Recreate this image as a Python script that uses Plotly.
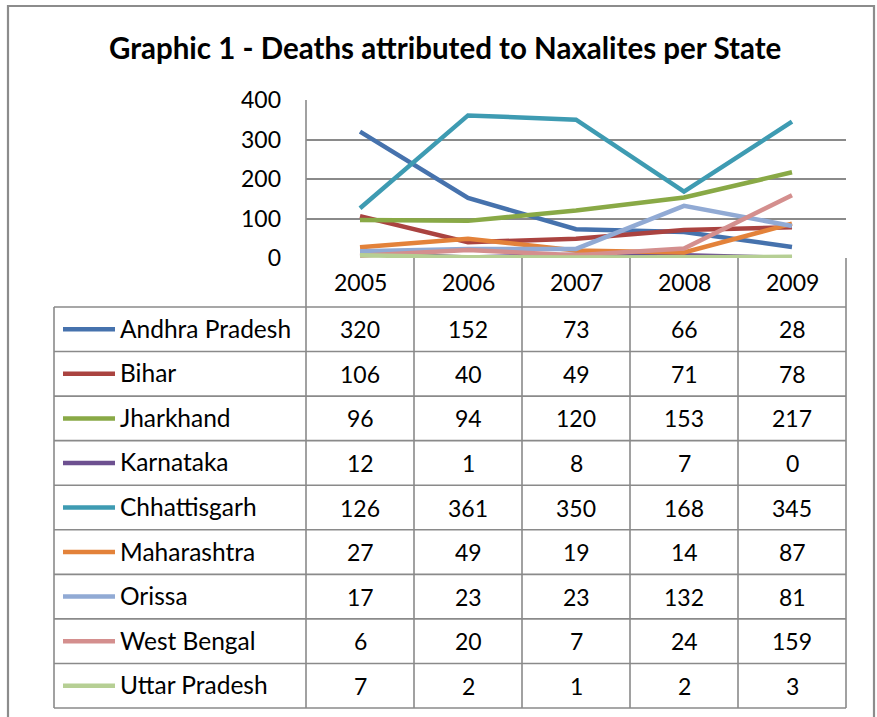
import plotly.graph_objects as go

W, H = 877, 717

years = ["2005", "2006", "2007", "2008", "2009"]
states = ["Andhra Pradesh", "Bihar", "Jharkhand", "Karnataka", "Chhattisgarh",
          "Maharashtra", "Orissa", "West Bengal", "Uttar Pradesh"]
andhra_pradesh = [320, 152, 73, 66, 28]
bihar = [106, 40, 49, 71, 78]
jharkhand = [96, 94, 120, 153, 217]
karnataka = [12, 1, 8, 7, 0]
chhattisgarh = [126, 361, 350, 168, 345]
maharashtra = [27, 49, 19, 14, 87]
orissa = [17, 23, 23, 132, 81]
west_bengal = [6, 20, 7, 24, 159]
uttar_pradesh = [7, 2, 1, 2, 3]
y_ticks = [0, 100, 200, 300, 400]

series = [andhra_pradesh, bihar, jharkhand, karnataka, chhattisgarh,
          maharashtra, orissa, west_bengal, uttar_pradesh]
colors = ["#4672AD", "#AA4340", "#89A946", "#6D5090", "#3E9BB2",
          "#E3823A", "#91AAD4", "#D48F8E", "#B6CF94"]

FONT = "Lato"
GRID = "#8A8A8A"
TXT = 23


def px(x):
    return x / W


def py(y):
    return 1 - y / H


plot_l, plot_r, plot_t, plot_b = 306, 846, 100, 258
table_l, table_b = 54, 708
row_tops = [307 + i * (table_b - 307) / 9 for i in range(10)]
col_edges = [plot_l + i * (plot_r - plot_l) / 5 for i in range(6)]

fig = go.Figure()
for name, vals, c in zip(states, series, colors):
    fig.add_trace(go.Scatter(x=years, y=vals, mode="lines", name=name,
                             line=dict(color=c, width=4.5), showlegend=False))

shapes = []


def line(x0, y0, x1, y1, color=GRID, width=1.6):
    shapes.append(dict(type="line", xref="paper", yref="paper",
                       x0=px(x0), y0=py(y0), x1=px(x1), y1=py(y1),
                       line=dict(color=color, width=width), layer="below"))


# outer frame
shapes.append(dict(type="rect", xref="paper", yref="paper",
                   x0=px(8), y0=py(735), x1=px(874), y1=py(6),
                   line=dict(color="#8C8C8C", width=2.2)))
# table horizontal lines
for yt in row_tops:
    line(table_l, yt, plot_r, yt)
# vertical lines
line(table_l, row_tops[0], table_l, table_b)
line(plot_l, plot_t, plot_l, table_b)
for xe in col_edges[1:]:
    line(xe, plot_b, xe, table_b)

annotations = []
# title
annotations.append(dict(xref="paper", yref="paper", x=px(445), y=py(47),
                        text="<b>Graphic 1 - Deaths attributed to Naxalites per State</b>",
                        showarrow=False, font=dict(family=FONT, size=29.5, color="black"),
                        xanchor="center", yanchor="middle"))
# year header
for j, yr in enumerate(years):
    annotations.append(dict(xref="x", yref="paper", x=j, y=py((plot_b + row_tops[0]) / 2),
                            text=yr, showarrow=False,
                            font=dict(family=FONT, size=TXT, color="black"),
                            xanchor="center", yanchor="middle"))
# rows
for i, (name, vals, c) in enumerate(zip(states, series, colors)):
    yc = (row_tops[i] + row_tops[i + 1]) / 2
    shapes.append(dict(type="line", xref="paper", yref="paper",
                       x0=px(63), x1=px(115), y0=py(yc), y1=py(yc),
                       line=dict(color=c, width=4.5)))
    annotations.append(dict(xref="paper", yref="paper", x=px(118), y=py(yc - 1),
                            text=name, showarrow=False,
                            font=dict(family=FONT, size=24.5, color="black"),
                            xanchor="left", yanchor="middle"))
    for j, v in enumerate(vals):
        annotations.append(dict(xref="x", yref="paper", x=j, y=py(yc),
                                text=str(v), showarrow=False,
                                font=dict(family=FONT, size=TXT, color="black"),
                                xanchor="center", yanchor="middle"))

fig.update_layout(
    template="none",
    width=W, height=H, autosize=False,
    margin=dict(l=0, r=0, t=0, b=0, pad=0),
    paper_bgcolor="white", plot_bgcolor="white",
    xaxis=dict(domain=[px(plot_l), px(plot_r)], type="category",
               categoryorder="array", categoryarray=years,
               range=[-0.5, 4.5], showticklabels=False, showgrid=False,
               zeroline=False, showline=False, fixedrange=True, automargin=False),
    yaxis=dict(domain=[py(plot_b), py(plot_t)], range=[0, 400],
               tickvals=y_ticks, ticktext=[str(t) for t in y_ticks],
               showgrid=True, gridcolor=GRID, gridwidth=1.6,
               zeroline=False, showline=False, ticks="",
               ticklabelstandoff=24, automargin=False,
               tickfont=dict(family=FONT, size=TXT, color="black"),
               fixedrange=True),
    shapes=shapes,
    annotations=annotations,
    showlegend=False,
)

fig.write_html("out.html", config={"displayModeBar": False},
               post_script="document.body.style.margin='0';document.body.style.overflow='hidden';")
